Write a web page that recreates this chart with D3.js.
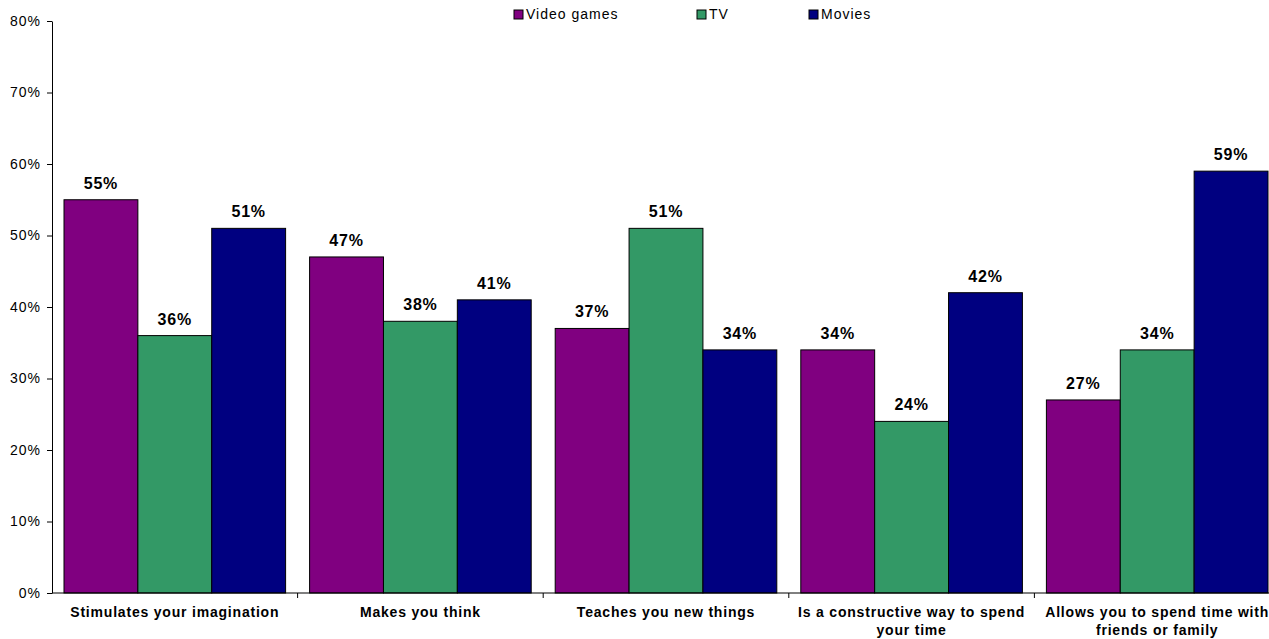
<!DOCTYPE html>
<html>
<head>
<meta charset="utf-8">
<script src="https://cdn.jsdelivr.net/npm/d3@7"></script>
<style>
  body { margin: 0; background: #fff; }
  svg { font-family: "Liberation Sans", Arial, sans-serif; }
</style>
</head>
<body>
<svg width="1269" height="639"></svg>
<script>
const categories = [
  ["Stimulates your imagination"],
  ["Makes you think"],
  ["Teaches you new things"],
  ["Is a constructive way to spend", "your time"],
  ["Allows you to spend time with", "friends or family"]
]
const seriesNames = ["Video games", "TV", "Movies"]
const videoGames = [55, 47, 37, 34, 27]
const tv = [36, 38, 51, 24, 34]
const movies = [51, 41, 34, 42, 59]
const yTicks = [0, 10, 20, 30, 40, 50, 60, 70, 80]
const colors = ["#800080", "#339966", "#000080"]

const svg = d3.select("svg")
const margin = { top: 21, left: 52 }
const innerHeight = 593 - margin.top
const innerWidth = 1228

const series = [videoGames, tv, movies]
const data = categories.map((c, i) => ({ i, values: series.map(s => s[i]) }))

const xScale = d3.scaleBand()
  .domain(d3.range(categories.length))
  .range([0, innerWidth])

const xInner = d3.scaleBand()
  .domain(d3.range(seriesNames.length))
  .range([12, xScale.bandwidth() - 12])

const yScale = d3.scaleLinear()
  .domain([0, 80])
  .range([innerHeight, 0])

const g = svg.append("g")
  .attr("transform", `translate(${margin.left},${margin.top})`)

// bars
const groups = g.selectAll(".grp").data(data)
  .enter().append("g")
  .attr("transform", d => `translate(${xScale(d.i)},0)`)

groups.selectAll("rect")
  .data(d => d.values)
  .enter().append("rect")
  .attr("x", (v, j) => xInner(j))
  .attr("y", v => yScale(v))
  .attr("width", xInner.bandwidth())
  .attr("height", v => innerHeight - yScale(v))
  .attr("fill", (v, j) => colors[j])
  .attr("stroke", "#000")
  .attr("stroke-width", 1)

groups.selectAll("text.val")
  .data(d => d.values)
  .enter().append("text")
  .attr("class", "val")
  .attr("x", (v, j) => xInner(j) + xInner.bandwidth() / 2)
  .attr("y", v => yScale(v) - 11)
  .attr("text-anchor", "middle")
  .attr("font-size", "16px")
  .attr("font-weight", "bold")
  .attr("letter-spacing", "0.8px")
  .text(v => v + "%")

// y axis
const yAxis = d3.axisLeft(yScale)
  .tickValues(yTicks)
  .tickFormat(d => d + "%")
  .tickSize(5)
  .tickSizeOuter(0)

const yAxisG = g.append("g").call(yAxis)
yAxisG.select(".domain").attr("stroke", "#000")
yAxisG.selectAll("text")
  .attr("font-size", "14px")
  .attr("font-family", "Liberation Sans, Arial, sans-serif")
  .attr("letter-spacing", "1px")
  .attr("fill", "#000")
  .attr("x", -11)

// x axis (boundary ticks)
const xAxisG = g.append("g")
  .attr("transform", `translate(0,${innerHeight})`)
xAxisG.append("line")
  .attr("x1", 0).attr("x2", innerWidth)
  .attr("stroke", "#000")
xAxisG.selectAll("line.tk")
  .data(d3.range(1, categories.length + 1))
  .enter().append("line")
  .attr("class", "tk")
  .attr("x1", d => xScale.step() * d)
  .attr("x2", d => xScale.step() * d)
  .attr("y1", 0).attr("y2", 5)
  .attr("stroke", "#000")

const catText = xAxisG.selectAll("text.cat")
  .data(categories)
  .enter().append("text")
  .attr("class", "cat")
  .attr("x", (c, i) => xScale(i) + xScale.bandwidth() / 2)
  .attr("y", 24)
  .attr("text-anchor", "middle")
  .attr("font-size", "14px")
  .attr("font-weight", "bold")
  .attr("letter-spacing", "0.8px")

catText.selectAll("tspan")
  .data((c, i) => c.map(t => ({ t, x: xScale(i) + xScale.bandwidth() / 2 })))
  .enter().append("tspan")
  .attr("x", d => d.x)
  .attr("dy", (d, k) => k === 0 ? 0 : 18)
  .text(d => d.t)

// legend
const legendX = [514, 697, 809]
const legend = svg.append("g")
legendX.forEach((lx, j) => {
  legend.append("rect")
    .attr("x", lx).attr("y", 10)
    .attr("width", 9).attr("height", 9)
    .attr("fill", colors[j])
    .attr("stroke", "#000")
  legend.append("text")
    .attr("x", lx + 12).attr("y", 19)
    .attr("font-size", "14px")
    .attr("letter-spacing", "1px")
    .text(seriesNames[j])
})
</script>
</body>
</html>
